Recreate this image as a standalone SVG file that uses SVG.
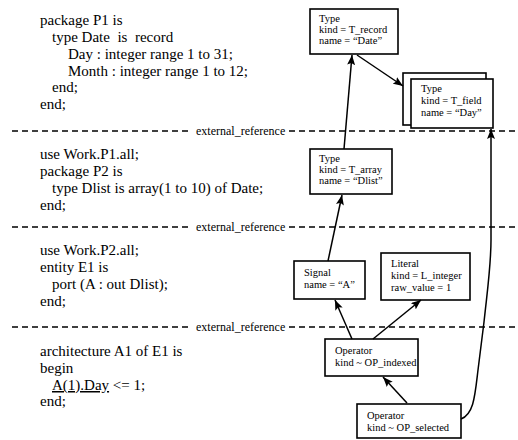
<svg xmlns="http://www.w3.org/2000/svg" width="518" height="440" viewBox="0 0 518 440">
<defs>
<style>
.code{font-family:"Liberation Serif","Times New Roman",serif;font-size:15px;fill:#000}
.lbl{font-family:"Liberation Serif","Times New Roman",serif;font-size:12px;fill:#000}
.nt{font-family:"Liberation Serif","Times New Roman",serif;font-size:10.5px;fill:#000}
.box{fill:#fff;stroke:#000;stroke-width:1.6}
.dash{stroke:#000;stroke-width:1.4;stroke-dasharray:6 4;fill:none}
.conn{stroke:#000;stroke-width:1.5;fill:none;marker-end:url(#arr)}
</style>
<marker id="arr" viewBox="0 0 10 8" refX="10" refY="4" markerWidth="10" markerHeight="8" orient="auto" markerUnits="userSpaceOnUse">
<path d="M0,0 L10,4 L0,8 L2,4 z" fill="#000"/>
</marker>
</defs>
<rect width="518" height="440" fill="#fff"/>

<g id="code">
<text class="code" x="40" y="25">package P1 is</text>
<text class="code" x="52" y="42" style="white-space:pre">type Date  is  record</text>
<text class="code" x="68" y="59">Day : integer range 1 to 31;</text>
<text class="code" x="68" y="76">Month : integer range 1 to 12;</text>
<text class="code" x="52" y="92">end;</text>
<text class="code" x="40" y="109">end;</text>

<text class="code" x="40" y="159">use Work.P1.all;</text>
<text class="code" x="40" y="176">package P2 is</text>
<text class="code" x="52" y="193">type Dlist is array(1 to 10) of Date;</text>
<text class="code" x="40" y="210">end;</text>

<text class="code" x="40" y="255">use Work.P2.all;</text>
<text class="code" x="40" y="272">entity E1 is</text>
<text class="code" x="52" y="289">port (A : out Dlist);</text>
<text class="code" x="40" y="306">end;</text>

<text class="code" x="40" y="356">architecture A1 of E1 is</text>
<text class="code" x="40" y="373">begin</text>
<text class="code" x="52" y="390"><tspan text-decoration="underline">A(1).Day</tspan> &lt;= 1;</text>
<text class="code" x="40" y="406">end;</text>
</g>

<g id="separators">
<line class="dash" x1="12" y1="131" x2="190" y2="131"/>
<text class="lbl" x="196" y="135">external_reference</text>
<line class="dash" x1="289" y1="131" x2="518" y2="131"/>
<line class="dash" x1="12" y1="227" x2="190" y2="227"/>
<text class="lbl" x="196" y="231">external_reference</text>
<line class="dash" x1="289" y1="227" x2="518" y2="227"/>
<line class="dash" x1="12" y1="327" x2="190" y2="327"/>
<text class="lbl" x="196" y="331">external_reference</text>
<line class="dash" x1="289" y1="327" x2="518" y2="327"/>
</g>

<g id="n-record">
<rect class="box" x="310" y="9" width="88" height="45"/>
<text class="nt" x="319" y="22">Type</text>
<text class="nt" x="319" y="33">kind = T_record</text>
<text class="nt" x="319" y="44">name = “Date”</text>
</g>

<g id="n-field">
<rect class="box" x="403" y="73" width="83" height="52"/>
<rect class="box" x="411" y="79" width="82" height="49"/>
<text class="nt" x="421" y="92">Type</text>
<text class="nt" x="421" y="104">kind = T_field</text>
<text class="nt" x="421" y="116">name = “Day”</text>
</g>

<g id="n-array">
<rect class="box" x="310" y="149" width="82" height="45"/>
<text class="nt" x="319" y="162">Type</text>
<text class="nt" x="319" y="173">kind = T_array</text>
<text class="nt" x="319" y="184">name = “Dlist”</text>
</g>

<g id="n-signal">
<rect class="box" x="294" y="261" width="71" height="38"/>
<text class="nt" x="304" y="276">Signal</text>
<text class="nt" x="304" y="288">name = “A”</text>
</g>

<g id="n-literal">
<rect class="box" x="381" y="253" width="89" height="47"/>
<text class="nt" x="391" y="267">Literal</text>
<text class="nt" x="391" y="279">kind = L_integer</text>
<text class="nt" x="391" y="291">raw_value = 1</text>
</g>

<g id="n-indexed">
<rect class="box" x="325" y="339" width="93" height="37"/>
<text class="nt" x="335" y="354">Operator</text>
<text class="nt" x="335" y="366">kind ~ OP_indexed</text>
</g>

<g id="n-selected">
<rect class="box" x="357" y="404" width="104" height="34"/>
<text class="nt" x="367" y="419">Operator</text>
<text class="nt" x="367" y="431">kind ~ OP_selected</text>
</g>

<g id="connectors">
<line class="conn" x1="357" y1="55" x2="403" y2="86"/>
<line class="conn" x1="344" y1="149" x2="352" y2="55"/>
<line class="conn" x1="328" y1="261" x2="342" y2="195"/>
<line class="conn" x1="352" y1="339" x2="335" y2="300"/>
<line class="conn" x1="373" y1="339" x2="421" y2="300"/>
<line class="conn" x1="407" y1="403" x2="383" y2="377"/>
<path class="conn" d="M461,419 C474,414 475,395 478,370 L484,322 C488,285 491,265 491,240 L491,129"/>
</g>
</svg>
